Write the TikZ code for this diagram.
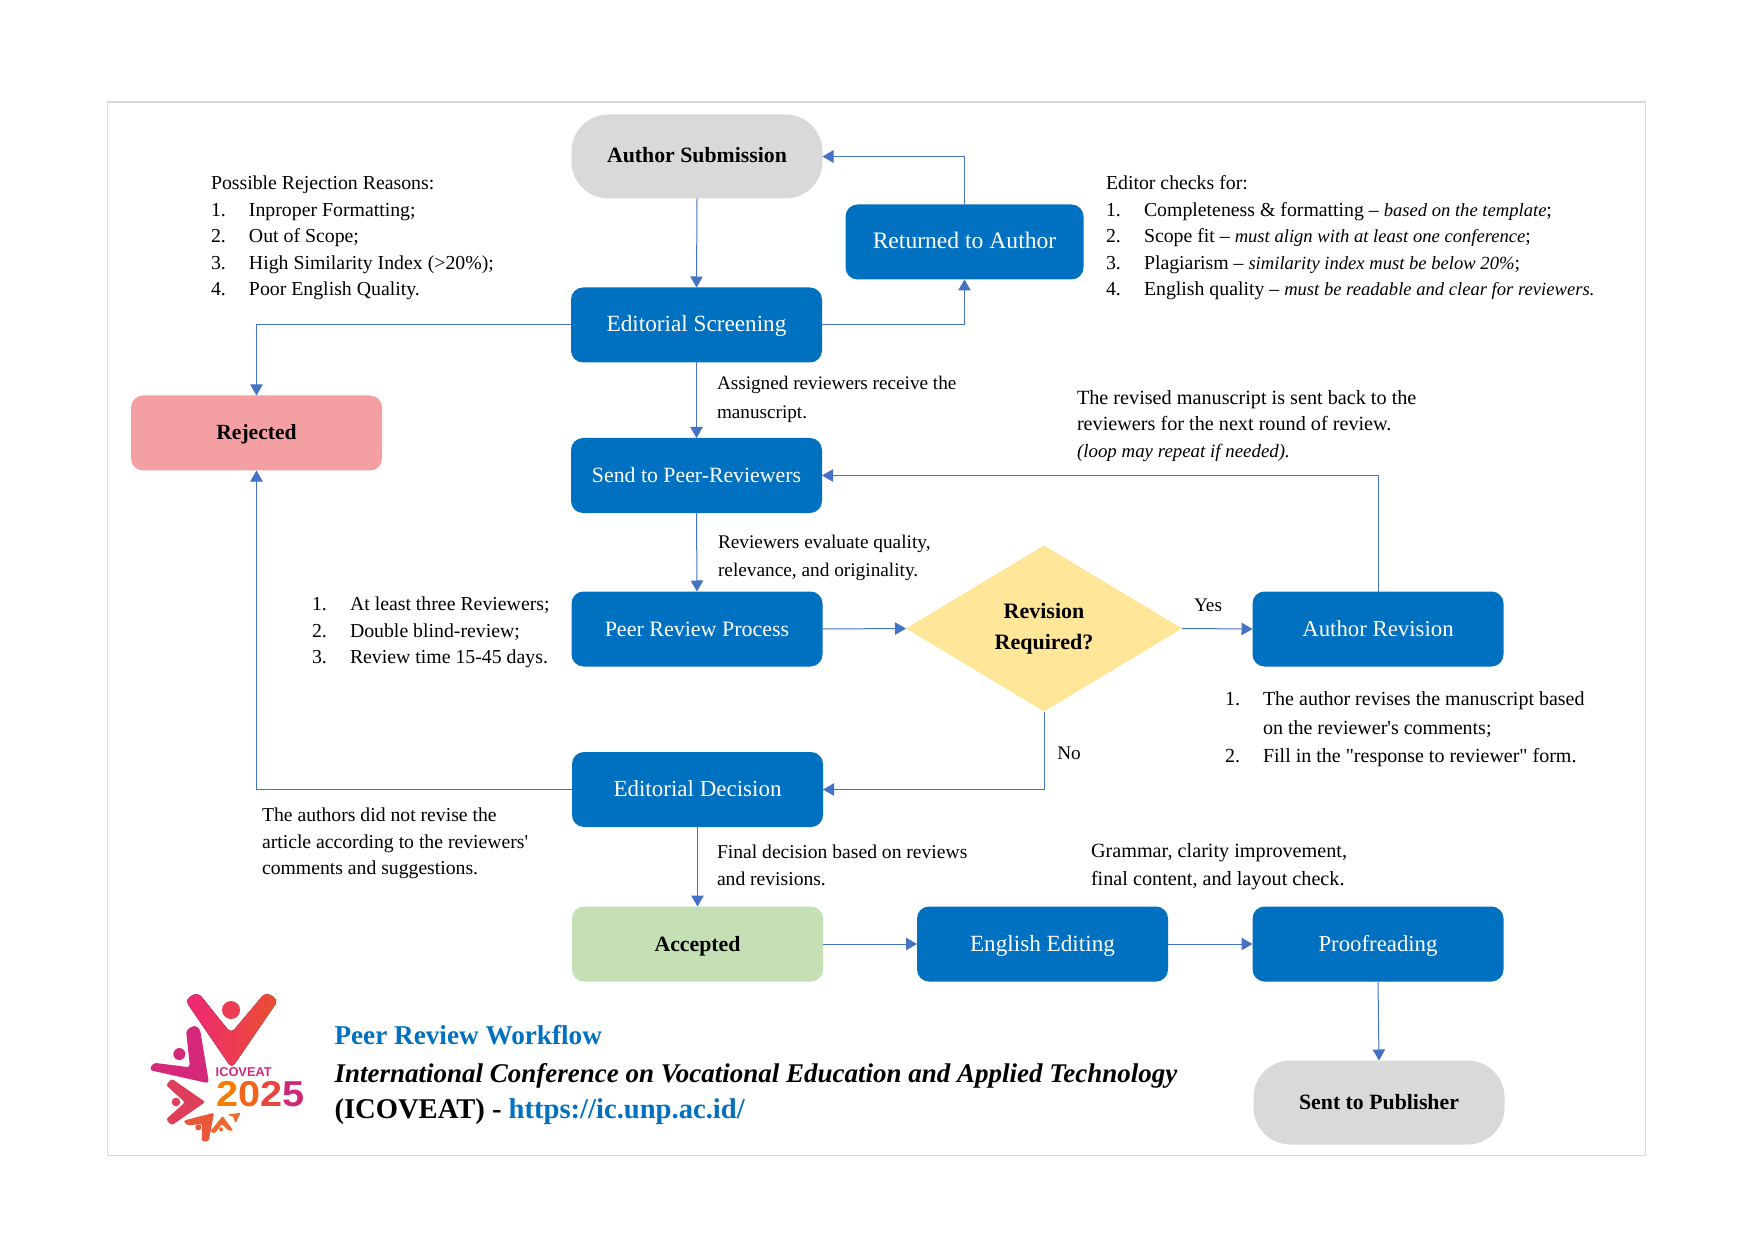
\documentclass[tikz,border=0pt]{standalone}
\usepackage{graphicx}
\usepackage{fontspec}
\setmainfont{Liberation Serif}
\newfontfamily\rawf{Liberation Serif}
\newfontfamily\logofont{Liberation Sans}
\usetikzlibrary{arrows.meta,shapes.geometric,calc}
\definecolor{boxblue}{HTML}{0070C0}
\definecolor{linkblue}{HTML}{4472C4}
\definecolor{softgray}{HTML}{D9D9D9}
\definecolor{rejectred}{HTML}{F4A0A2}
\definecolor{acceptgreen}{HTML}{C5E0B4}
\definecolor{diamondgold}{HTML}{FFE699}
\definecolor{logopink}{RGB}{238,38,120}
\definecolor{logored}{RGB}{235,80,46}
\definecolor{logomag}{RGB}{214,40,122}
\definecolor{logocoral}{RGB}{222,62,90}
\definecolor{logoorange}{RGB}{232,88,56}
\definecolor{logoamber}{RGB}{238,104,48}
\newcommand{\li}[2]{\makebox[19pt][l]{#1}#2}
\newcommand{\itn}[2][9.3]{{\fontsize{#1}{13}\selectfont\itshape #2}}
\newcommand{\sz}[1]{\fontsize{#1}{13}\selectfont}
\tikzset{
  x=0.5pt,y=-0.5pt,
  every node/.style={inner sep=0pt,outer sep=0pt},
  flowbox/.style={rectangle,rounded corners=6pt,minimum width=125.5pt,minimum height=37.5pt,align=center,text height=9.5pt,text depth=2.5pt,font=\sz{11}},
  bluebox/.style={flowbox,fill=boxblue,text=white},
  pill/.style={flowbox,fill=softgray,text=black,rounded corners=18.5pt,minimum height=42pt,font=\sz{10.9}\bfseries},
  rejectbox/.style={flowbox,fill=rejectred,font=\sz{10.8}\bfseries},
  acceptbox/.style={flowbox,fill=acceptgreen,font=\sz{10.9}\bfseries},
  decision/.style={diamond,aspect=1.67,fill=diamondgold,minimum width=138pt,minimum height=83pt,align=center,inner sep=0pt,font=\fontsize{11}{15.5}\selectfont\bfseries},
  note/.style={anchor=north west,align=left,font=\fontsize{9.9}{13.25}\selectfont},
  link/.style={draw=linkblue,line width=0.5pt,-{Triangle[length=5.5pt,width=6.2pt]}},
}
\begin{document}
\begin{tikzpicture}
\useasboundingbox (0,0) rectangle (1754,1240);
\fill[white] (0,0) rectangle (1754,1240);
\draw[softgray,line width=0.75pt] (107.5,102) rectangle (1645.5,1155.5);

\node[pill,text height=8.5pt] (as) at (697,156.5) {Author Submission};
\node[bluebox,font=\sz{11.6}] (es) at (696.5,325) {Editorial Screening};
\node[bluebox,minimum width=119pt,font=\sz{11.8}] (ra) at (964.5,242) {Returned to Author};
\node[rejectbox] (rj) at (256.5,433) {Rejected};
\node[bluebox,font=\sz{10.9}] (sp) at (696.5,475.5) {Send to Peer-Reviewers};
\node[bluebox] (pr) at (697,629) {Peer Review Process};
\node[decision] (rv) at (1044,628.5) {Revision\\Required?};
\node[bluebox,font=\sz{11.4}] (ar) at (1378,629) {Author Revision};
\node[bluebox,font=\sz{11.5}] (ed) at (697.5,789.5) {Editorial Decision};
\node[acceptbox] (ac) at (697.5,944) {Accepted};
\node[bluebox,font=\sz{11.6}] (ee) at (1042.5,944) {English Editing};
\node[bluebox,font=\sz{11.4}] (pf) at (1378,944) {Proofreading};
\node[pill] (sx) at (1379,1102.5) {Sent to Publisher};

\draw[link] (as.south) -- (es.north);
\draw[link] (es.east) -| (ra.south);
\draw[link] (ra.north) |- (as.east);
\draw[link] (es.west) -| (rj.north);
\draw[link] (es.south) -- (sp.north);
\draw[link] (sp.south) -- (pr.north);
\draw[link] (pr.east) -- (rv.west);
\draw[link] (rv.east) -- (ar.west);
\draw[link] (ar.north) |- (sp.east);
\draw[link] (rv.south) |- (ed.east);
\draw[link] (ed.west) -| (rj.south);
\draw[link] (ed.south) -- (ac.north);
\draw[link] (ac.east) -- (ee.west);
\draw[link] (ee.east) -- (pf.west);
\draw[link] (pf.south) -- (sx.north);

\node[note] (n1) at (211,176) {Possible Rejection Reasons:\\\li{1.}{Inproper Formatting;}\\\li{2.}{Out of Scope;}\\\li{3.}{High Similarity Index (>20\%);}\\\li{4.}{Poor English Quality.}};
\node[note] (n2) at (1106,176) {Editor checks for:\\\li{1.}{Completeness \& formatting -- \itn{based on the template};}\\\li{2.}{Scope fit -- \itn{must align with at least one conference};}\\\li{3.}{Plagiarism -- \itn{similarity index must be below 20\%};}\\\li{4.}{English quality -- \itn{must be readable and clear for reviewers.}}};
\node[note,font=\fontsize{9.6}{14.5}\selectfont] (n3) at (717,376.5) {Assigned reviewers receive the\\manuscript.};
\node[note,font=\fontsize{10.1}{13.25}\selectfont] (n4) at (1077,390) {The revised manuscript is sent back to the\\reviewers for the next round of review.\\\itn[9.45]{(loop may repeat if needed).}};
\node[note,font=\fontsize{9.65}{14}\selectfont] (n5) at (718,535) {Reviewers evaluate quality,\\relevance, and originality.};
\node[note] (n6) at (312,597) {\li{1.}{At least three Reviewers;}\\\li{2.}{Double blind-review;}\\\li{3.}{Review time 15-45 days.}};
\node[note,font=\fontsize{10}{14.2}\selectfont] (n7) at (1225,692) {\li{1.}{The author revises the manuscript based}\\\hspace*{19pt}on the reviewer{\rawf\char39}s comments;\\\li{2.}{Fill in the {\rawf\char34}response to reviewer{\rawf\char34} form.}};
\node[note,font=\fontsize{9.85}{13.25}\selectfont] (n8) at (262,808) {The authors did not revise the\\article according to the reviewers{\rawf\char39}\\comments and suggestions.};
\node[note,font=\fontsize{9.8}{13.25}\selectfont] (n9) at (717,845) {Final decision based on reviews\\and revisions.};
\node[note,font=\fontsize{10.1}{14}\selectfont] (n10) at (1091,843) {Grammar, clarity improvement,\\final content, and layout check.};
\node[font=\fontsize{9.6}{12}\selectfont] (yes) at (1208,605) {Yes};
\node[font=\fontsize{9.6}{12}\selectfont] (no) at (1069,753) {No};

\node[anchor=base west,font=\fontsize{13.6}{16}\selectfont\bfseries,text=boxblue] (t1) at (334.5,1044) {Peer Review Workflow};
\node[anchor=base west,font=\fontsize{13.5}{16}\selectfont\bfseries\itshape] (t2) at (334.5,1082) {International Conference on Vocational Education and Applied Technology};
\node[anchor=base west,font=\fontsize{14.3}{16}\selectfont\bfseries] (t3) at (334.5,1118) {(ICOVEAT) - \textcolor{boxblue}{https://ic.unp.ac.id/}};

% logo
\begin{scope}[shift={(130,970)},x=0.1667pt,y=-0.1667pt]
\fill[rounded corners=2.6pt,left color=logopink,right color=logored] (165,90)--(203,66)--(303,190)--(407,66)--(445,90)--(305,295)--cycle;
\fill[logopink!50!logored] (303,120) circle[radius=27];
\fill[rounded corners=1.6pt,logomag] (168,180)--(195,165)--(210,178)--(237,340)--(58,300)--(70,278)--(180,292)--cycle;
\fill[logomag] (148,252) circle[radius=18];
\fill[rounded corners=1.2pt,logocoral] (108,345)--(125,326)--(226,396)--(125,466)--(108,448)--(165,397)--cycle;
\fill[logocoral] (138,396) circle[radius=13];
\fill[rounded corners=0.8pt,logoorange] (160,452)--(252,428)--(236,514)--(215,514)--(216,462)--(172,466)--cycle;
\fill[logoorange] (205,472) circle[radius=9];
\fill[rounded corners=0.6pt,logoamber] (240,485)--(278,438)--(310,482)--(296,482)--(276,462)--(254,490)--cycle;
\fill[logoamber] (273,478) circle[radius=6];
\fill[rounded corners=0.5pt,logoamber] (292,434)--(332,428)--(316,460)--(310,440)--cycle;
\node[font=\logofont\fontsize{6.4}{6.4}\selectfont\bfseries,text=logomag] (l1) at (341,306) {ICOVEAT};
\node[anchor=base,font=\logofont\fontsize{18}{18}\selectfont\bfseries] (l2) at (391,410) {\scalebox{1.1}[1]{\textcolor[RGB]{245,124,0}{2}\textcolor[RGB]{242,100,30}{0}\textcolor[RGB]{234,70,62}{2}\textcolor[RGB]{205,40,120}{5}}};
\end{scope}
\end{tikzpicture}
\end{document}
